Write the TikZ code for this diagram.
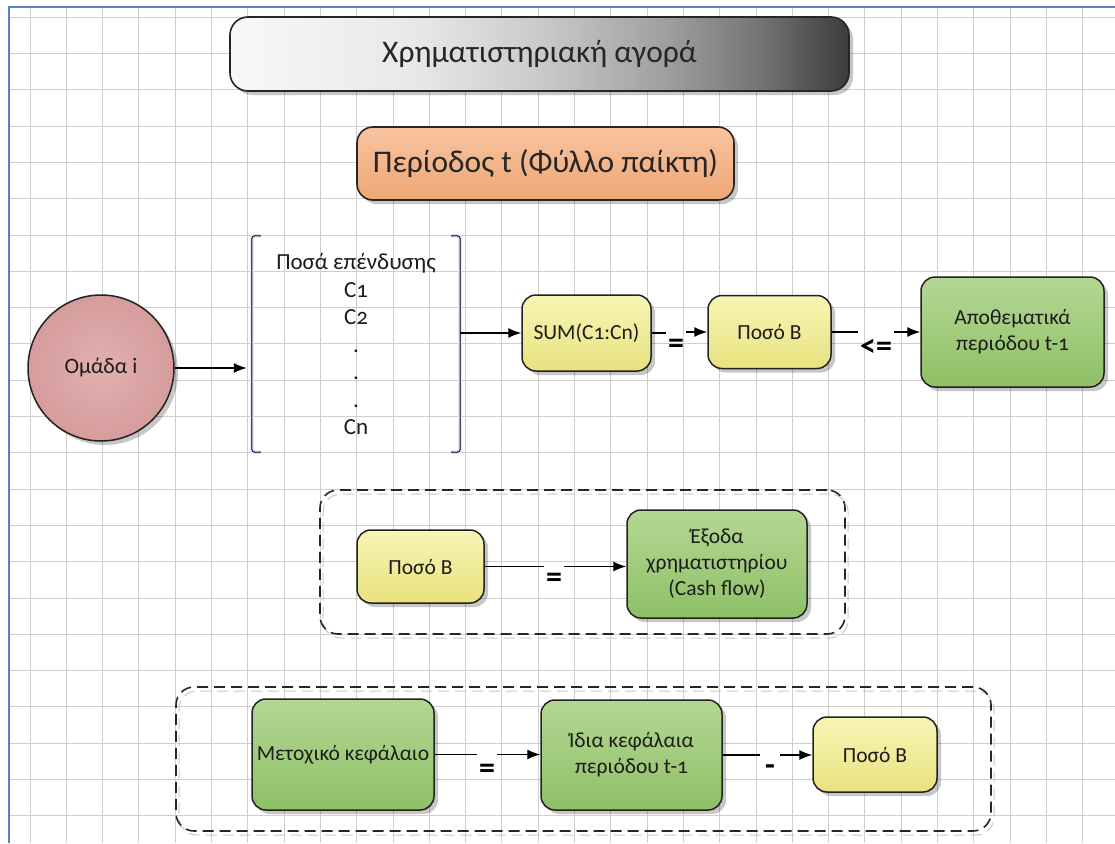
\documentclass[tikz,border=0pt]{standalone}
\usepackage{fontspec}
\setmainfont{Carlito}[Numbers=OldStyle]
\usetikzlibrary{shadows,arrows.meta}

\definecolor{gridgray}{RGB}{206,206,206}
\definecolor{framebl}{RGB}{84,130,200}
\definecolor{edgegray}{RGB}{34,34,34}
\definecolor{txt}{RGB}{28,28,28}
\definecolor{yelT}{RGB}{248,245,182}
\definecolor{yelB}{RGB}{232,226,126}
\definecolor{grnT}{RGB}{180,215,148}
\definecolor{grnB}{RGB}{142,192,102}
\definecolor{orT}{RGB}{248,196,160}
\definecolor{orB}{RGB}{238,166,118}
\definecolor{roseC}{RGB}{226,176,176}
\definecolor{roseE}{RGB}{214,156,156}
\definecolor{brk}{RGB}{58,70,86}
\definecolor{tg0}{RGB}{248,248,248}
\definecolor{tg1}{RGB}{232,232,232}
\definecolor{tg2}{RGB}{202,202,202}
\definecolor{tg3}{RGB}{160,160,160}
\definecolor{tg4}{RGB}{118,118,118}
\definecolor{tg5}{RGB}{60,60,60}

% left-to-right grey ramp of the heading bar
\pgfdeclarehorizontalshading{headramp}{100bp}{color(0bp)=(tg0); color(25bp)=(tg0);
  color(40bp)=(tg1); color(50bp)=(tg2); color(60bp)=(tg3); color(67.5bp)=(tg4);
  color(75bp)=(tg5); color(100bp)=(tg5)}

\tikzset{
  gridline/.style={draw=gridgray, line width=0.9pt},
  frameline/.style={draw=framebl, line width=2pt},
  softshadow/.style={drop shadow={shadow xshift=4pt, shadow yshift=-4pt, fill=black, opacity=0.22}},
  box/.style={draw=edgegray, line width=1.5pt, rounded corners=14pt, text=txt,
    font=\fontsize{21.5}{26}\selectfont, align=center, inner sep=0pt, softshadow},
  yelbox/.style={box, top color=yelT, bottom color=yelB},
  grnbox/.style={box, top color=grnT, bottom color=grnB},
  headbox/.style={draw=black!85, line width=1.6pt, rounded corners=18pt, shading=headramp,
    font=\fontsize{31.5}{36}\selectfont, text=black!85, inner sep=0pt, softshadow},
  periodbox/.style={draw=black!85, line width=1.6pt, rounded corners=16pt, top color=orT, bottom color=orB,
    font=\fontsize{31.5}{36}\selectfont, text=black!85, inner sep=0pt, softshadow},
  teamnode/.style={circle, draw=edgegray, line width=1.5pt, inner color=roseC, outer color=roseE,
    font=\fontsize{22}{26}\selectfont, text=txt, inner sep=0pt, softshadow},
  listnode/.style={inner sep=0pt, align=center, font=\fontsize{23}{27.5}\selectfont, text=txt},
  bracketline/.style={draw=brk, line width=1.3pt, rounded corners=3pt,
    preaction={draw=blue!10, line width=4pt}},
  group/.style={draw=black!85, line width=1.6pt, dash pattern=on 11pt off 6pt, rounded corners=18pt,
    preaction={draw=black!22, line width=1pt, dash pattern=on 11pt off 6pt,
      transform canvas={shift={(3pt,-4pt)}}}},
  op/.style={font=\bfseries\fontsize{32}{32}\selectfont, text=black, inner xsep=2pt, inner ysep=0pt},
  conn/.style={draw=black, line width=1.3pt},
  arr/.style={conn, -{Latex[length=13pt,width=10pt]}},
}

\begin{document}
\begin{tikzpicture}[x=1pt,y=-1pt]
\useasboundingbox (0,0) rectangle (1115,843);

% squared paper
\foreach \k in {0,...,29} \draw[gridline] ({30+36.3*\k},7) -- ({30+36.3*\k},843);
\foreach \k in {-1,...,21} \draw[gridline] (9,{53.5+36.3*\k}) -- (1115,{53.5+36.3*\k});
\draw[frameline] (9,843) -- (9,7) -- (1115,7);

% headings
\node[headbox, minimum width=619pt, minimum height=74pt] (market) at (539.5,54) {Χρηματιστηριακή αγορά};
\node[periodbox, minimum width=377pt, minimum height=73pt] (period) at (545.5,163.5) {Περίοδος t (Φύλλο παίκτη)};

% first row: team, investment amounts, sum, amount B, reserves
\node[teamnode, minimum size=146pt] (team) at (101,368) {Ομάδα i};
\node[listnode, minimum width=208pt, minimum height=216pt] (amounts) at (356,344)
  {Ποσά επένδυσης\\C1\\C2\\.\\.\\.\\Cn};
\draw[bracketline] ([xshift=9pt]amounts.north west) -- (amounts.north west) -- (amounts.south west) -- ([xshift=9pt]amounts.south west);
\draw[bracketline] ([xshift=-9pt]amounts.north east) -- (amounts.north east) -- (amounts.south east) -- ([xshift=-9pt]amounts.south east);

\node[yelbox, minimum width=129pt, minimum height=76pt] (sum) at (586.5,333) {SUM(C1:Cn)};
\node[yelbox, minimum width=123pt, minimum height=73pt] (amountB) at (769.5,332) {Ποσό Β};
\node[grnbox, minimum width=183pt, minimum height=110pt] (reserves) at (1012.5,332) {Αποθεματικά\\περιόδου t-1};

\node[op] (eqA) at (676,346) {=};
\node[op] (leq) at (876,348) {<=};

\draw[arr, shorten >=5pt] (team.east) -- (team.east -| amounts.west);
\draw[arr] (amounts.east |- sum.west) -- (sum.west);
\draw[conn] (sum.east) -- (sum.east -| eqA.west);
\draw[arr] (eqA.east |- amountB.west) -- (amountB.west);
\draw[conn] (amountB.east) -- (amountB.east -| leq.west);
\draw[arr] (leq.east |- amountB.east) -- (reserves.west |- amountB.east);

% second group: amount B equals market outflow
\node[group, minimum width=525pt, minimum height=144pt] (cashgroup) at (582.5,562) {};
\node[yelbox, minimum width=127pt, minimum height=73pt] (amountB2) at (420.5,566.5) {Ποσό Β};
\node[grnbox, minimum width=180pt, minimum height=108pt] (outflow) at (717,564)
  {Έξοδα\\χρηματιστηρίου\\(Cash flow)};
\node[op] (eqB) at (554,580) {=};
\draw[conn] (amountB2.east) -- (amountB2.east -| eqB.west);
\draw[arr] (eqB.east |- amountB2.east) -- (outflow.west |- amountB2.east);

% third group: share capital equals previous equity minus amount B
\node[group, minimum width=815pt, minimum height=144pt] (capgroup) at (583.5,759) {};
\node[grnbox, minimum width=182pt, minimum height=111pt] (capital) at (343,754.5) {Μετοχικό κεφάλαιο};
\node[grnbox, minimum width=181pt, minimum height=110pt] (equity) at (631.5,755) {Ίδια κεφάλαια\\περιόδου t-1};
\node[yelbox, minimum width=124pt, minimum height=75pt] (amountB3) at (875,754.5) {Ποσό Β};
\node[op] (eqC) at (487,771) {=};
\node[op, inner xsep=5pt] (minus) at (770,770) {-};
\draw[conn] (capital.east) -- (capital.east -| eqC.west);
\draw[arr] (eqC.east |- capital.east) -- (equity.west |- capital.east);
\draw[conn] (equity.east) -- (equity.east -| minus.west);
\draw[arr] (minus.east |- equity.east) -- (amountB3.west |- equity.east);
\end{tikzpicture}
\end{document}
